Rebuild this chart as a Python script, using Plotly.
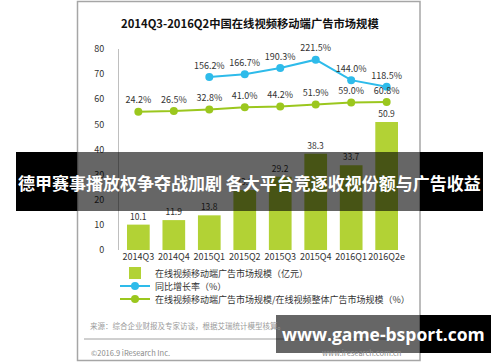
import plotly.graph_objects as go

categories = ["2014Q3", "2014Q4", "2015Q1", "2015Q2", "2015Q3", "2015Q4", "2016Q1", "2016Q2e"]
market_size = [10.1, 11.9, 13.8, 23.9, 29.2, 38.3, 33.7, 50.9]
yoy_categories = ["2015Q1", "2015Q2", "2015Q3", "2015Q4", "2016Q1", "2016Q2e"]
yoy_growth = [156.2, 166.7, 190.3, 221.5, 144.0, 118.5]
share_of_total = [24.2, 26.5, 32.8, 41.0, 44.2, 51.9, 59.0, 60.8]
y_ticks = [0, 10, 20, 30, 40, 50, 60, 70, 80]

series_names = [
    "在线视频移动端广告市场规模（亿元）",
    "同比增长率（%）",
    "在线视频移动端广告市场规模/在线视频整体广告市场规模（%）",
]
title_text = "2014Q3-2016Q2中国在线视频移动端广告市场规模"
banner_text = "德甲赛事播放权争夺战加剧 各大平台竞逐收视份额与广告收益"
watermark_text = "www.game-bsport.com"
source_text = "来源：综合企业财报及专家访谈，根据艾瑞统计模型核算。"
copyright_text = "©2016.9 iResearch Inc."
site_text = "www.iresearch.com.cn"

W, H = 500, 362
L, R, T, B = 119, 406, 49, 250  # plot area in pixels
FONT = "Noto Sans CJK SC, Microsoft YaHei, sans-serif"

def px(x):
    return (x - L) / (R - L)

def py(y):
    return (B - y) / (B - T)

BAR = "#B2D235"
BLUE = "#2EBBEA"
GREEN = "#9BC71E"
TXT = "#333333"

fig = go.Figure()
fig.add_trace(go.Bar(
    x=categories, y=market_size, name=series_names[0], legend="legend",
    marker=dict(color=BAR, line=dict(width=0)),
    text=market_size, texttemplate="%{y:.1f}", textposition="outside",
    textfont=dict(size=8.5, color=TXT, family=FONT), cliponaxis=False,
))
fig.add_trace(go.Scatter(
    x=yoy_categories, y=yoy_growth, name=series_names[1], yaxis="y2", legend="legend2",
    mode="lines+markers+text", line=dict(color=BLUE, width=2),
    marker=dict(color=BLUE, size=8),
    texttemplate="%{y:.1f}%", textposition="top center",
    textfont=dict(size=9, color=TXT, family=FONT), cliponaxis=False,
))
fig.add_trace(go.Scatter(
    x=categories, y=share_of_total, name=series_names[2], yaxis="y2", legend="legend3",
    mode="lines+markers+text", line=dict(color=GREEN, width=2),
    marker=dict(color=GREEN, size=8),
    texttemplate="%{y:.1f}%", textposition="top center",
    textfont=dict(size=9, color=TXT, family=FONT), cliponaxis=False,
))

shapes = [
    dict(type="rect", xref="paper", yref="paper", x0=px(77.5), x1=px(420), y0=py(1.5), y1=py(360.5),
         line=dict(color="#A6A6A6", width=1.5), fillcolor="rgba(0,0,0,0)", layer="below"),
    dict(type="line", xref="paper", yref="paper", x0=px(84), x1=px(414), y0=py(339), y1=py(339),
         line=dict(color="#A0A0A0", width=1)),
    dict(type="rect", xref="paper", yref="paper", x0=px(16), x1=px(77), y0=py(152), y1=py(211),
         fillcolor="#000000", line=dict(width=0), layer="above"),
    dict(type="rect", xref="paper", yref="paper", x0=px(77), x1=px(420), y0=py(152), y1=py(211),
         fillcolor="rgba(0,0,0,0.6)", line=dict(width=0), layer="above"),
    dict(type="rect", xref="paper", yref="paper", x0=px(420), x1=px(483), y0=py(152), y1=py(211),
         fillcolor="#000000", line=dict(width=0), layer="above"),
    dict(type="rect", xref="paper", yref="paper", x0=px(276), x1=px(420), y0=py(315), y1=py(353),
         fillcolor="rgba(0,0,0,0.6)", line=dict(width=0), layer="above"),
    dict(type="rect", xref="paper", yref="paper", x0=px(420), x1=px(491), y0=py(315), y1=py(353),
         fillcolor="#000000", line=dict(width=0), layer="above"),
]

annotations = [
    dict(text="<b>" + title_text + "</b>", xref="paper", yref="paper", x=px(250), y=py(23),
         showarrow=False, font=dict(size=11.3, color="#111111", family=FONT), xanchor="center", yanchor="middle"),
    dict(text=source_text, xref="paper", yref="paper", x=px(88), y=py(325),
         showarrow=False, font=dict(size=7.5, color="#9A9A9A", family=FONT), xanchor="left", yanchor="middle"),
    dict(text=copyright_text, xref="paper", yref="paper", x=px(89), y=py(352),
         showarrow=False, font=dict(size=7.5, color="#8A8A8A", family=FONT), xanchor="left", yanchor="middle"),
    dict(text=site_text, xref="paper", yref="paper", x=px(403), y=py(352),
         showarrow=False, font=dict(size=7.5, color="#8A8A8A", family=FONT), xanchor="right", yanchor="middle"),
    dict(text="<b>" + banner_text + "</b>", xref="paper", yref="paper", x=px(249.5), y=py(182),
         showarrow=False, font=dict(size=17, color="#FFFFFF", family=FONT), xanchor="center", yanchor="middle"),
    dict(text="<b>" + watermark_text + "</b>", xref="paper", yref="paper", x=px(383), y=py(334),
         showarrow=False, font=dict(size=17.5, color="#FFFFFF", family="Open Sans, DejaVu Sans, sans-serif"),
         xanchor="center", yanchor="middle"),
]

def leg(ypix):
    return dict(x=px(115), y=py(ypix), xanchor="left", yanchor="middle", orientation="v",
                font=dict(size=9, color=TXT, family=FONT), bgcolor="rgba(0,0,0,0)",
                itemwidth=30, tracegroupgap=0)

fig.update_layout(
    width=W, height=H, autosize=False,
    margin=dict(l=L, r=W - R, t=T, b=H - B, pad=0, autoexpand=False),
    paper_bgcolor="#FFFFFF", plot_bgcolor="#FFFFFF",
    font=dict(family=FONT, size=9, color=TXT),
    bargap=0.36, showlegend=True,
    legend=leg(273), legend2=leg(286), legend3=leg(299),
    xaxis=dict(type="category", categoryorder="array", categoryarray=categories,
               showgrid=False, showline=False, zeroline=False, ticks="", tickangle=0,
               automargin=False, tickfont=dict(size=9, color=TXT, family=FONT)),
    yaxis=dict(range=[0, 80], tickvals=y_ticks, showgrid=False, zeroline=False,
               showline=True, linecolor="#BFBFBF", linewidth=1, ticks="", automargin=False,
               ticklabelstandoff=12, tickfont=dict(size=9, color=TXT, family=FONT)),
    yaxis2=dict(range=[-500, 262], overlaying="y", side="right", visible=False),
    shapes=shapes, annotations=annotations,
)

fig.write_html(
    "out.html",
    config={"displayModeBar": False},
    post_script="document.body.style.margin='0';document.body.style.overflow='hidden';",
)
